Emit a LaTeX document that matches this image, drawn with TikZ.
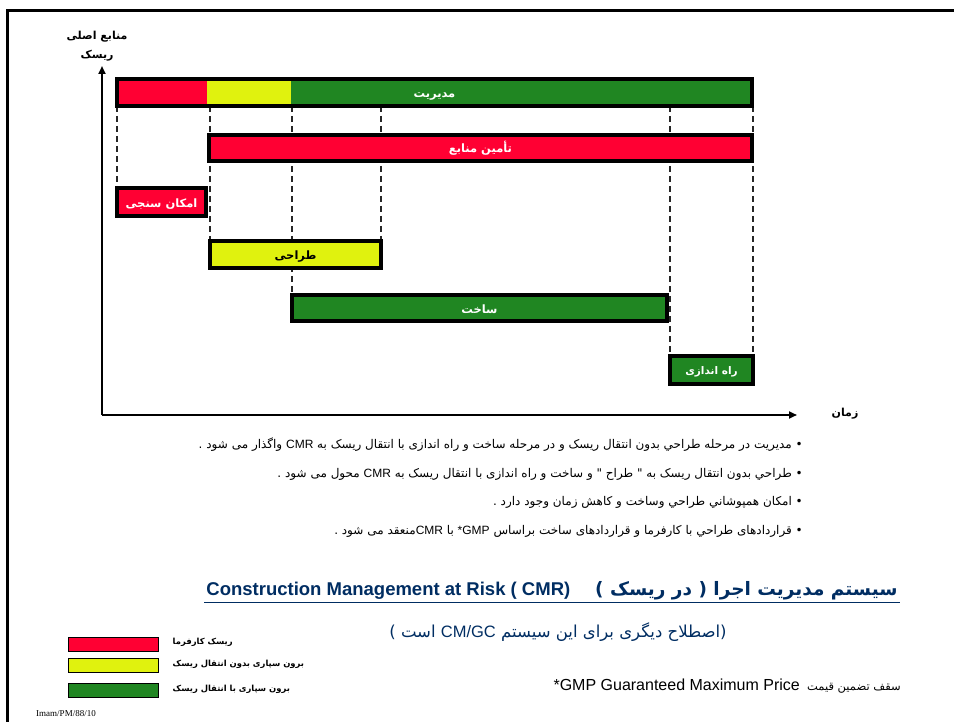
\documentclass[tikz,border=0pt]{standalone}
\usepackage{fontspec}
\setmainfont{Liberation Sans}
\newfontfamily\fa[Script=Arabic]{DejaVu Sans}
\newfontfamily\tms{Liberation Serif}
\TeXXeTstate=1
\usetikzlibrary{positioning,arrows.meta,backgrounds}

\definecolor{rsk}{RGB}{255,0,51}
\definecolor{ylw}{RGB}{224,242,14}
\definecolor{grn}{RGB}{32,134,34}
\definecolor{navy}{RGB}{0,45,98}

\newcommand{\rtl}[1]{\fa\beginR #1\endR}
\newcommand{\lat}[1]{\beginL{\rmfamily #1}\endL}

\begin{document}
\begin{tikzpicture}[x=1pt,y=-1pt,
  bar/.style={draw=black,line width=4pt,inner sep=0pt,outer sep=0pt,text=white,
    text height=11pt,text depth=1pt,font=\fontsize{11.5}{13}\selectfont\bfseries},
  guide/.style={dash pattern=on 6pt off 4pt,line width=1.2pt,black!85},
  axis/.style={line width=2pt,-{Triangle[length=8pt,width=7pt]}},
  axlabel/.style={font=\fontsize{11}{13}\selectfont\bfseries,inner sep=1pt},
  bul/.style={anchor=east,inner sep=0pt,font=\fontsize{12}{14}\selectfont},
  legbox/.style={draw=black,line width=1pt,minimum width=90pt,minimum height=14pt,inner sep=0pt},
  legtext/.style={font=\fontsize{8.4}{10}\selectfont\bfseries,inner sep=0pt,anchor=west}]

  \useasboundingbox (0,0) rectangle (954,722);
  % frame
  \draw[line width=3pt] (7,722) -- (7,11) -- (954,11);

  % axes
  \coordinate (o) at (102,415);
  \coordinate (ytip) at (102,66);
  \coordinate (xtip) at (797,415);
  \draw[axis] (o) -- (ytip);
  \draw[axis] (o) -- (xtip);
  \node[axlabel] (ylab1) at (97,37) {\rtl{منابع اصلی}};
  \node[axlabel] (ylab2) at (97,56) {\rtl{ریسک}};
  \node[axlabel] (xlab) at (845,414) {\rtl{زمان}};

  % bars
  \node[bar,fill=grn,minimum width=635pt,minimum height=27pt,
    path picture={
      \fill[rsk] (path picture bounding box.north west) rectangle ++(90pt,-40pt);
      \fill[ylw] ([xshift=90pt]path picture bounding box.north west) rectangle ++(84pt,-40pt);
    }] (mgmt) at (434.5,92.5) {\rtl{مدیریت}};
  \node[bar,fill=rsk,minimum width=543pt,minimum height=26pt] (tamin) at (480.5,148) {\rtl{تأمین منابع}};
  \node[bar,fill=rsk,minimum width=89pt,minimum height=28pt] (emkan) at (161.5,202.5) {\rtl{امکان سنجی}};
  \node[bar,fill=ylw,text=black,minimum width=171pt,minimum height=27pt] (tarahi) at (295.5,254.5) {\rtl{طراحی}};
  \node[bar,fill=grn,minimum width=375pt,minimum height=26pt] (sakht) at (479.5,308.5) {\rtl{ساخت}};
  \node[bar,fill=grn,minimum width=83pt,minimum height=28pt,font=\fontsize{10.5}{12}\selectfont\bfseries] (rah) at (711.5,369.5) {\rtl{راه اندازی}};

  % guides
  \begin{scope}[on background layer]
    \draw[guide] (emkan.north west |- mgmt.south) -- (emkan.north west);
    \draw[guide] (tarahi.north west |- mgmt.south) -- (tarahi.north west);
    \draw[guide] (sakht.north west |- mgmt.south) -- (sakht.north west);
    \draw[guide] (tarahi.north east |- mgmt.south) -- (tarahi.north east);
    \draw[guide] (rah.north west |- mgmt.south) -- (rah.north west);
    \draw[guide] (rah.north east |- mgmt.south) -- (rah.north east);
  \end{scope}

  % notes
  \node[bul] (b1) at (803,445) {\rtl{• مدیریت در مرحله طراحي بدون انتقال ريسک و در مرحله ساخت و راه اندازی با انتقال ريسک به \lat{CMR} واگذار می شود .}};
  \node[bul] (b2) at (803,474) {\rtl{• طراحي بدون انتقال ريسک به " طراح " و ساخت  و راه اندازی با انتقال ريسک به \lat{CMR} محول می شود .}};
  \node[bul] (b3) at (803,502) {\rtl{• امکان همپوشاني طراحي وساخت و کاهش زمان وجود دارد .}};
  \node[bul] (b4) at (803,531) {\rtl{• قراردادهای طراحي با کارفرما و قراردادهای ساخت براساس \lat{*GMP} با \lat{CMR}منعقد می شود .}};

  % title
  \node[text=navy,inner sep=2pt,font=\fontsize{18.5}{20}\selectfont\bfseries] (title) at (552,591)
    {\rtl{سیستم مدیریت اجرا ( در ریسک )\quad\ \lat{Construction Management at Risk ( CMR)}}};
  \draw[navy,line width=1.5pt] (title.south west) -- (title.south east);
  \node[text=navy,font=\fontsize{16.5}{18}\selectfont] (sub) at (558,632)
    {\rtl{(اصطلاح دیگری برای این سیستم \lat{CM/GC} است )}};

  % legend
  \node[legbox,fill=rsk] (leg1) at (113,644) {};
  \node[legbox,fill=ylw] (leg2) at (113,665) {};
  \node[legbox,fill=grn] (leg3) at (113,690) {};
  \node[legtext,right=14pt of leg1.east,yshift=2pt] (lt1) {\rtl{ریسک کارفرما}};
  \node[legtext,right=14pt of leg2.east,yshift=1pt] (lt2) {\rtl{برون سپاری بدون انتقال ریسک}};
  \node[legtext,right=14pt of leg3.east,yshift=1pt] (lt3) {\rtl{برون سپاری با انتقال ریسک}};

  % footer
  \node[font=\tms\fontsize{9}{11}\selectfont,inner sep=0pt] (ref) at (66,714) {Imam/PM/88/10};
  \node[anchor=east,inner sep=0pt,font=\fontsize{11.5}{13}\selectfont] (gmp) at (901,686)
    {\rtl{سقف تضمین قیمت\ \ \lat{\fontsize{16}{18}\selectfont *GMP Guaranteed Maximum Price}}};
\end{tikzpicture}
\end{document}
